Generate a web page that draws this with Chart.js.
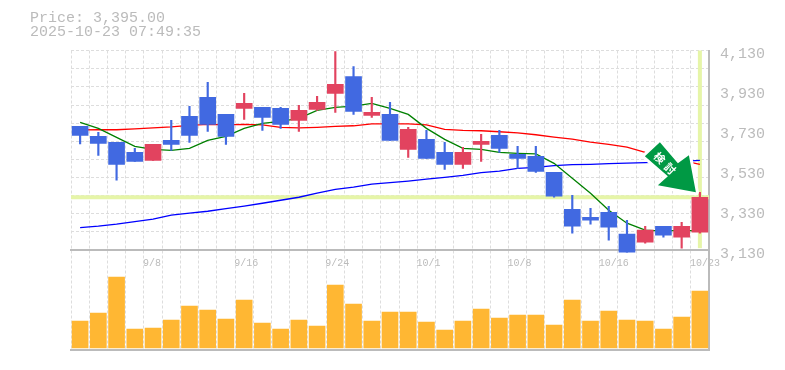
<!DOCTYPE html>
<html>
<head>
<meta charset="utf-8">
<style>
  html, body { margin: 0; padding: 0; background: #fff; }
  canvas { display: block; }
</style>
<script src="https://cdn.jsdelivr.net/npm/chart.js@4"></script>
</head>
<body>
<canvas id="stock_chart" width="785" height="370"></canvas>
<script>
var headerLines = ['Price: 3,395.00', '2025-10-23 07:49:35'];
var signalText = '検討';

var categories = ['9/2','9/3','9/4','9/5','9/8','9/9','9/10','9/11','9/12','9/16','9/17','9/18',
    '9/19','9/22','9/24','9/25','9/26','9/29','9/30','10/1','10/2','10/3','10/6','10/7','10/8',
    '10/9','10/10','10/14','10/15','10/16','10/17','10/20','10/21','10/22','10/23'];
var labeledDates = ['9/8','9/16','9/24','10/1','10/8','10/16','10/23'];

var opens = [3750,3700,3670,3620,3580,3680,3800,3895,3810,3840,3845,3840,3780,3835,3915,4000,3805,3810,
    3635,3685,3620,3560,3660,3705,3610,3600,3520,3335,3295,3320,3210,3170,3250,3195,3220];
var closes = [3705,3665,3560,3575,3660,3660,3705,3760,3700,3865,3795,3760,3830,3870,3960,3825,3820,3680,
    3735,3590,3560,3620,3675,3640,3590,3525,3400,3250,3280,3245,3120,3230,3205,3250,3395];
var highs = [3750,3720,3670,3640,3660,3780,3850,3970,3810,3915,3845,3845,3855,3900,4125,4050,3895,3870,
    3745,3730,3670,3645,3710,3730,3650,3650,3520,3405,3340,3350,3280,3250,3250,3270,3420];
var lows = [3662,3605,3480,3575,3580,3630,3670,3725,3660,3785,3730,3740,3725,3830,3820,3810,3795,3680,
    3595,3590,3535,3540,3575,3620,3540,3520,3395,3215,3260,3180,3120,3165,3195,3140,3215];

var maShort = [3770,3740,3695,3650,3635,3630,3640,3680,3700,3740,3765,3775,3790,3830,3845,3851,3865,3840,
    3810,3740,3685,3640,3635,3620,3615,3612,3565,3490,3415,3330,3265,3230,3225,3230,3225];
var maMiddle = [3732,3733,3733,3737,3742,3747,3755,3760,3758,3760,3758,3745,3742,3745,3750,3753,3763,3763,
    3763,3758,3735,3730,3728,3723,3717,3708,3696,3686,3671,3660,3646,3620,3600,3580,3560];
var maLong = [3243,3250,3260,3273,3285,3305,3315,3325,3338,3351,3365,3380,3395,3416,3435,3446,3461,3468,
    3476,3486,3495,3505,3518,3526,3540,3545,3553,3558,3560,3563,3566,3568,3572,3575,3580];

var volumes = [27,35,71,19,20,28,42,38,29,48,25,19,28,22,63,44,27,36,36,26,18,27,39,30,33,33,23,48,27,37,28,27,19,31,57];

var priceTicks = [3130,3330,3530,3730,3930,4130];
var priceGridTicks = [3130,3221,3312,3403,3494,3585,3675,3766,3857,3948,4039,4130];
var lastPrice = 3395;

var UP_COLOR = '#e2435f';
var DOWN_COLOR = '#4169e1';
var TEXT_COLOR = '#bbbbbb';
var GRID_COLOR = '#dddddd';
var MONO_FONT = '"Liberation Mono", "DejaVu Sans Mono", monospace';

var candleColors = opens.map(function (open, i) {
    return closes[i] >= open ? UP_COLOR : DOWN_COLOR;
});

function setTicks(values) {
    return function (scale) {
        scale.ticks = values.map(function (v) { return {value: v}; });
    };
}

// last price cross, under the candles
var crossPlugin = {
    id: 'cross',
    beforeDatasetsDraw: function (chart) {
        var ctx = chart.ctx, area = chart.chartArea;
        var x = chart.scales.x.getPixelForValue(categories.length - 1);
        var y = chart.scales.y.getPixelForValue(lastPrice);
        ctx.save();
        ctx.fillStyle = '#e6f5a8';
        ctx.fillRect(area.left, y - 2, area.right - area.left, 4);
        ctx.fillRect(x - 2, area.top, 4, chart.scales.y.getPixelForValue(3130) - area.top - 2);
        ctx.restore();
    }
};

// green signal arrow pointing at the last candle
var arrowPlugin = {
    id: 'arrow',
    afterDatasetsDraw: function (chart) {
        var ctx = chart.ctx;
        var tipX = chart.scales.x.getPixelForValue(categories.length - 1) - 4;
        var tipY = chart.scales.y.getPixelForValue(lastPrice) - 5;
        var shape = [[-36,-50],[-51,-36],[-28,-16],[-38,-7],[0,0],[-7,-37],[-18,-29]];
        ctx.save();
        ctx.translate(tipX, tipY);
        ctx.beginPath();
        shape.forEach(function (p, i) {
            if (i === 0) { ctx.moveTo(p[0], p[1]); } else { ctx.lineTo(p[0], p[1]); }
        });
        ctx.closePath();
        // white halo, the lines stop short of the arrow
        ctx.strokeStyle = '#ffffff';
        ctx.lineWidth = 6;
        ctx.lineJoin = 'round';
        ctx.stroke();
        ctx.fillStyle = '#009944';
        ctx.fill();
        ctx.translate(-31, -29);
        ctx.rotate(Math.PI / 4);
        ctx.fillStyle = '#ffffff';
        ctx.font = 'bold 11px "Noto Sans CJK JP"';
        ctx.letterSpacing = '4px';
        ctx.textAlign = 'center';
        ctx.textBaseline = 'middle';
        ctx.fillText(signalText, 2, 0);
        ctx.restore();
    }
};

new Chart(document.getElementById('stock_chart'), {
    type: 'bar',
    plugins: [crossPlugin, arrowPlugin],
    data: {
        labels: categories,
        datasets: [{
            data: opens.map(function (open, i) { return [open, closes[i]]; }),
            backgroundColor: candleColors,
            barThickness: 16,
            grouped: false,
            order: 1
        }, {
            data: lows.map(function (low, i) { return [low, highs[i]]; }),
            backgroundColor: candleColors,
            barThickness: 1.5,
            grouped: false,
            order: 2
        }, {
            type: 'line',
            data: maShort,
            borderColor: '#008000',
            borderWidth: 1.3,
            pointRadius: 0,
            order: 3
        }, {
            type: 'line',
            data: maMiddle,
            borderColor: '#ff0000',
            borderWidth: 1.3,
            pointRadius: 0,
            order: 3
        }, {
            type: 'line',
            data: maLong,
            borderColor: '#0000ff',
            borderWidth: 1.3,
            pointRadius: 0,
            order: 3
        }, {
            data: volumes,
            yAxisID: 'yVolume',
            backgroundColor: '#ffb733',
            barThickness: 16,
            grouped: false,
            order: 4
        }]
    },
    options: {
        responsive: false,
        animation: false,
        layout: {padding: {left: 30, right: 0, top: 0, bottom: 20}},
        plugins: {
            legend: {display: false},
            tooltip: {enabled: false},
            title: {
                display: true,
                text: headerLines,
                align: 'start',
                color: TEXT_COLOR,
                font: {family: MONO_FONT, size: 15, weight: 'normal', lineHeight: 0.95},
                padding: {top: 11, bottom: 11}
            }
        },
        scales: {
            x: {
                offset: true,
                grid: {color: GRID_COLOR, lineWidth: 1, tickLength: 0},
                border: {color: TEXT_COLOR, width: 2, dash: [3, 2]},
                ticks: {display: false}
            },
            // date labels sit on top of the volume panel
            xDates: {
                type: 'category',
                axis: 'x',
                offset: true,
                position: {y: 3130},
                grid: {display: false, tickLength: 0},
                border: {color: TEXT_COLOR, width: 2},
                ticks: {
                    autoSkip: false,
                    maxRotation: 0,
                    align: 'start',
                    labelOffset: -10,
                    padding: 7,
                    color: TEXT_COLOR,
                    font: {family: MONO_FONT, size: 10},
                    callback: function (value) {
                        var label = this.getLabelForValue(value);
                        return labeledDates.indexOf(label) >= 0 ? label : '';
                    }
                }
            },
            y: {
                position: 'left',
                min: 2630,
                max: 4130,
                afterBuildTicks: setTicks(priceGridTicks),
                afterFit: function (scale) { scale.width = 41; },
                grid: {color: GRID_COLOR, lineWidth: 1, tickLength: 0},
                border: {display: false, dash: [3, 2]},
                ticks: {display: false}
            },
            yLabels: {
                position: 'right',
                min: 2630,
                max: 4130,
                afterBuildTicks: setTicks(priceTicks),
                afterFit: function (scale) { scale.width = 76; },
                grid: {display: false, tickLength: 0},
                border: {color: TEXT_COLOR, width: 2},
                ticks: {
                    padding: 11,
                    labelOffset: 4,
                    color: TEXT_COLOR,
                    font: {family: MONO_FONT, size: 15},
                    callback: function (value) { return value.toLocaleString('en-US'); }
                }
            },
            yVolume: {
                display: false,
                min: -2,
                max: 298
            }
        }
    }
});
</script>
</body>
</html>
